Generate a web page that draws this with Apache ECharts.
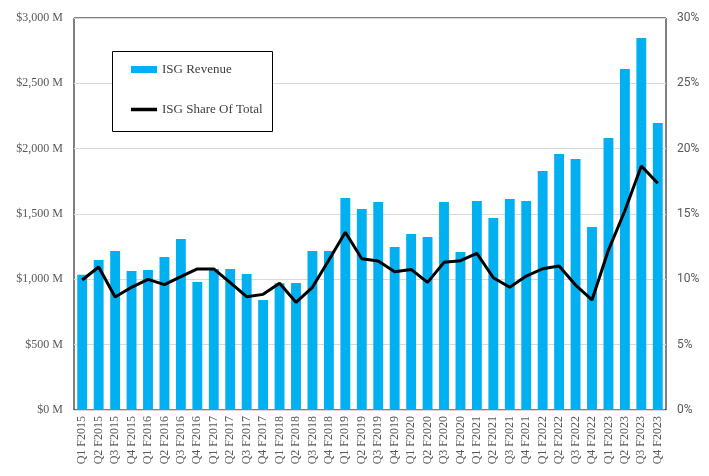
<!DOCTYPE html>
<html><head><meta charset="utf-8">
<script src="https://cdn.jsdelivr.net/npm/echarts@6/dist/echarts.min.js"></script>
<style>html,body{margin:0;padding:0;background:#fff}#c{width:709px;height:476px}</style>
</head><body><div id="c"></div>
<script>
const categories = ["Q1 F2015","Q2 F2015","Q3 F2015","Q4 F2015","Q1 F2016","Q2 F2016","Q3 F2016","Q4 F2016","Q1 F2017","Q2 F2017","Q3 F2017","Q4 F2017","Q1 F2018","Q2 F2018","Q3 F2018","Q4 F2018","Q1 F2019","Q2 F2019","Q3 F2019","Q4 F2019","Q1 F2020","Q2 F2020","Q3 F2020","Q4 F2020","Q1 F2021","Q2 F2021","Q3 F2021","Q4 F2021","Q1 F2022","Q2 F2022","Q3 F2022","Q4 F2022","Q1 F2023","Q2 F2023","Q3 F2023","Q4 F2023"];
const isgRevenue = [1035,1148,1217,1064,1071,1171,1309,980,1079,1079,1041,842,970,972,1217,1217,1622,1538,1592,1247,1347,1324,1592,1209,1600,1469,1615,1600,1829,1959,1921,1400,2082,2610,2847,2196];
const isgShare = [9.95,10.94,8.65,9.39,10.0,9.6,10.2,10.8,10.8,9.75,8.67,8.85,9.7,8.24,9.39,11.48,13.6,11.58,11.4,10.58,10.76,9.77,11.3,11.43,11.99,10.12,9.39,10.25,10.81,11.02,9.56,8.42,12.24,15.25,18.67,17.35];
const leftTicks = [0,500,1000,1500,2000,2500,3000];
const rightTicks = [0,5,10,15,20,25,30];

const chart = echarts.init(document.getElementById('c'));
const serif = '"Liberation Serif", "DejaVu Serif", serif';
const legendText = {fontFamily: serif, fontSize: 13, color: '#404040'};
chart.setOption({
  animation: false,
  grid: {left: 74, right: 43, top: 18, bottom: 66, show: true, borderColor: '#000', borderWidth: 1},
  graphic: [{type: 'rect', left: 112, top: 51, shape: {width: 160, height: 80}, style: {fill: '#fff', stroke: '#000', lineWidth: 1}, z: 100}],
  legend: [
    {left: 131, top: 63, padding: 0, itemWidth: 26, itemHeight: 7, itemGap: 0, z: 110,
     textStyle: legendText, data: [{name: 'ISG Revenue', icon: 'rect'}]},
    {left: 131, top: 103, padding: 0, itemWidth: 26, itemHeight: 3.5, itemGap: 0, z: 110,
     textStyle: legendText, data: [{name: 'ISG Share Of Total', icon: 'rect'}]}
  ],
  xAxis: {
    type: 'category', data: categories,
    axisLine: {show: false}, axisTick: {show: false},
    axisLabel: {rotate: 90, interval: 0, fontFamily: serif, fontSize: 12, color: '#595959', margin: 6}
  },
  yAxis: [
    {type: 'value', min: 0, max: 3000, interval: 500,
     axisLine: {show: false}, axisTick: {show: false},
     splitLine: {lineStyle: {color: '#d9d9d9', width: 1}},
     axisLabel: {fontFamily: serif, fontSize: 12, color: '#595959', margin: 11,
       formatter: v => '$' + v.toLocaleString('en-US') + ' M'}},
    {type: 'value', min: 0, max: 30, interval: 5,
     axisLine: {show: false}, axisTick: {show: false}, splitLine: {show: false},
     axisLabel: {fontFamily: '"Roboto", sans-serif', fontSize: 12, color: '#595959', margin: 11,
       formatter: v => v + '%'}}
  ],
  series: [
    {name: 'ISG Revenue', type: 'bar', data: isgRevenue, barCategoryGap: '40%',
     itemStyle: {color: '#00B0F0'}},
    {name: 'ISG Share Of Total', type: 'line', yAxisIndex: 1, data: isgShare,
     symbol: 'none', lineStyle: {color: '#000', width: 3}, itemStyle: {color: '#000'}, z: 5}
  ]
});
</script></body></html>
